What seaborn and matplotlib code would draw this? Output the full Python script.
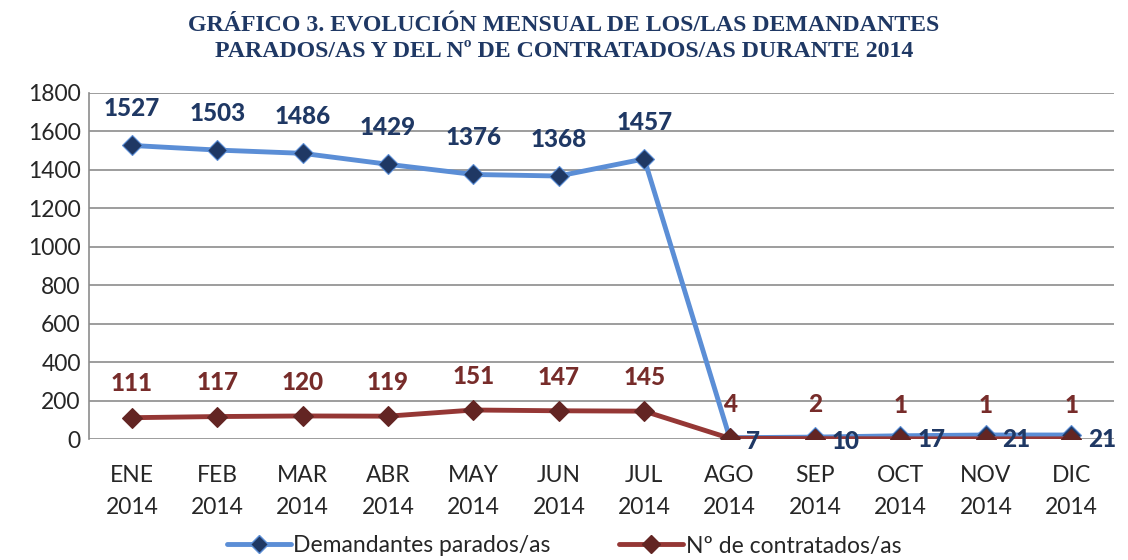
import matplotlib
matplotlib.use("Agg")
import matplotlib.pyplot as plt
import seaborn as sns
import pandas as pd
from matplotlib.lines import Line2D

# datos del gráfico
meses = ["ENE\n2014", "FEB\n2014", "MAR\n2014", "ABR\n2014", "MAY\n2014", "JUN\n2014",
         "JUL\n2014", "AGO\n2014", "SEP\n2014", "OCT\n2014", "NOV\n2014", "DIC\n2014"]
parados = [1527, 1503, 1486, 1429, 1376, 1368, 1457, 7, 10, 17, 21, 21]
contratados = [111, 117, 120, 119, 151, 147, 145, 4, 2, 1, 1, 1]

serie_parados = "Demandantes parados/as"
serie_contratados = "Nº de contratados/as"

df = pd.DataFrame({"mes": meses, serie_parados: parados, serie_contratados: contratados})
df["x"] = range(len(meses))
largo = df.melt(id_vars=["mes", "x"], var_name="serie", value_name="valor")

sns.set_style("white")
plt.rcParams["font.family"] = ["Lato", "DejaVu Sans"]

azul = "#5B8ED6"
azul_osc = "#1F3864"
rojo = "#953735"
rojo_osc = "#632523"

fig = plt.figure(figsize=(11.28, 5.6), dpi=100)
ax = fig.add_axes([0.079, 0.216, 0.9086, 0.618])

sns.lineplot(data=largo, x="x", y="valor", hue="serie",
             palette={serie_parados: azul, serie_contratados: rojo},
             linewidth=3.5, marker="D", markersize=10, ax=ax, legend=False,
             markeredgewidth=0.8)
# marcadores oscuros
for linea, col in zip(ax.get_lines(), [azul_osc, rojo_osc]):
    linea.set_markerfacecolor(col)
    linea.set_markeredgecolor(col if col == rojo_osc else azul)

ax.set_xlim(-0.5, len(meses) - 0.5)
ax.set_ylim(0, 1800)
ax.set_yticks(range(0, 1801, 200))
ax.set_xticks(df["x"])
ax.set_xticklabels(meses, linespacing=1.65)
ax.tick_params(axis="both", labelsize=16.5, length=0, pad=6)
ax.tick_params(axis="x", pad=19)
ax.yaxis.grid(True, color="#8C8C8C", linewidth=1.2)
ax.set_xlabel("")
ax.set_ylabel("")
for s in ["top", "right", "bottom"]:
    ax.spines[s].set_visible(False)
ax.spines["left"].set_color("#8C8C8C")
ax.spines["left"].set_linewidth(1.2)

# etiquetas de datos
for i, v in enumerate(parados):
    if v > 100:
        ax.annotate(str(v), (i, v), xytext=(0, 18), textcoords="offset points",
                    ha="center", va="bottom", fontsize=17.5, fontweight="black", color=azul_osc)
    else:
        ax.annotate(str(v), (i, v), xytext=(12, -3), textcoords="offset points",
                    ha="left", va="center", fontsize=17.5, fontweight="black", color=azul_osc)
for i, v in enumerate(contratados):
    ax.annotate(str(v), (i, v), xytext=(0, 16), textcoords="offset points",
                ha="center", va="bottom", fontsize=17.5, fontweight="black", color="#772C2A")

fig.text(0.5, 0.932, "GRÁFICO 3. EVOLUCIÓN MENSUAL DE LOS/LAS DEMANDANTES\n"
         "PARADOS/AS Y DEL Nº DE CONTRATADOS/AS DURANTE 2014",
         ha="center", va="center", fontsize=17.2, fontweight="bold", color=azul_osc,
         family=["Liberation Serif", "DejaVu Serif"], linespacing=1.32)

handles = [Line2D([], [], color=azul, lw=3.5, marker="D", markersize=9,
                  markerfacecolor=azul_osc, markeredgecolor=azul),
           Line2D([], [], color=rojo, lw=3.5, marker="D", markersize=9,
                  markerfacecolor=rojo_osc, markeredgecolor=rojo_osc)]
fig.legend(handles, [serie_parados, serie_contratados], loc="center",
           bbox_to_anchor=(0.5, 0.025), ncol=2, frameon=False, fontsize=16.5,
           handlelength=2.8, handletextpad=0.1, columnspacing=3)

fig.savefig("out.png", dpi=100)
